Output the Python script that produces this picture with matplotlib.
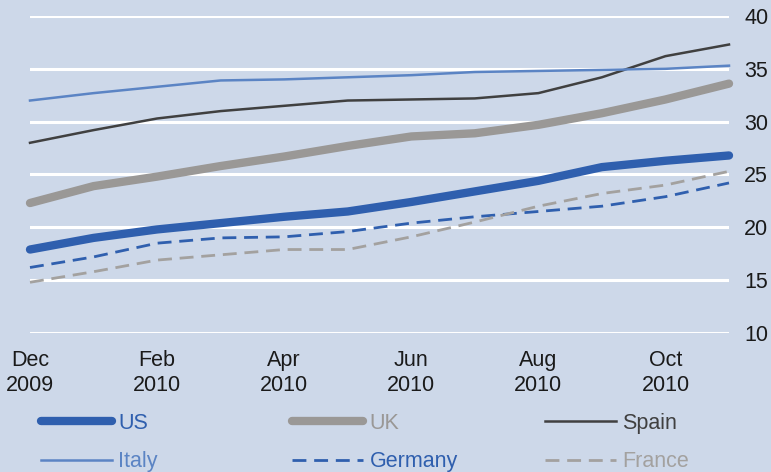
import matplotlib
matplotlib.use("Agg")
import matplotlib.pyplot as plt

months = ["Dec\n2009", "Jan\n2010", "Feb\n2010", "Mar\n2010", "Apr\n2010", "May\n2010",
          "Jun\n2010", "Jul\n2010", "Aug\n2010", "Sep\n2010", "Oct\n2010", "Nov\n2010"]

us = [17.9, 19.0, 19.8, 20.4, 21.0, 21.5, 22.4, 23.4, 24.4, 25.7, 26.3, 26.8]
uk = [22.3, 23.9, 24.8, 25.8, 26.7, 27.7, 28.6, 28.9, 29.7, 30.8, 32.1, 33.6]
spain = [28.0, 29.2, 30.3, 31.0, 31.5, 32.0, 32.1, 32.2, 32.7, 34.2, 36.2, 37.3]
italy = [32.0, 32.7, 33.3, 33.9, 34.0, 34.2, 34.4, 34.7, 34.8, 34.9, 35.0, 35.3]
germany = [16.2, 17.2, 18.5, 19.0, 19.1, 19.6, 20.4, 21.0, 21.5, 22.0, 22.9, 24.2]
france = [14.8, 15.8, 16.9, 17.4, 17.9, 17.9, 19.1, 20.5, 22.0, 23.2, 24.0, 25.3]

y_ticks = [10, 15, 20, 25, 30, 35, 40]

BG = "#cdd8e9"
BLUE = "#2f5fae"
GREY = "#9a9896"
DARK = "#404040"
LIGHTBLUE = "#5b84c4"
LIGHTGREY = "#a3a19f"

plt.rcParams["font.family"] = ["Liberation Sans", "DejaVu Sans"]
plt.rcParams["font.size"] = 15

W, H = 771, 472
fig = plt.figure(figsize=(W / 100, H / 100), dpi=100, facecolor=BG)
ax = fig.add_axes([30 / W, 1 - 333 / H, (729 - 30) / W, (333 - 16) / H])
ax.set_facecolor(BG)

x = list(range(len(months)))

series = [
    ("US", us, dict(color=BLUE, lw=6, solid_capstyle="round")),
    ("UK", uk, dict(color=GREY, lw=6, solid_capstyle="round")),
    ("Spain", spain, dict(color=DARK, lw=1.8)),
    ("Italy", italy, dict(color=LIGHTBLUE, lw=1.8)),
    ("Germany", germany, dict(color=BLUE, lw=2, linestyle=(0, (5, 2.8)))),
    ("France", france, dict(color=LIGHTGREY, lw=2, linestyle=(0, (5, 2.8)))),
]

lines = {}
for name, vals, style in series:
    (ln,) = ax.plot(x, vals, solid_joinstyle="round", clip_on=False, zorder=3, **style)
    lines[name] = ln

ax.set_xlim(0, len(months) - 1)
ax.set_ylim(10, 40)
ax.set_yticks(y_ticks)
ax.yaxis.tick_right()
ax.tick_params(axis="y", length=0, pad=11, labelsize=15.5, labelcolor="#1a1a1a")
ax.grid(axis="y", color="white", lw=2.2, zorder=1)
ax.set_xticks(x[::2])
ax.set_xticklabels(months[::2], linespacing=1.3)
ax.tick_params(axis="x", length=0, pad=12, labelsize=15.5, labelcolor="#1a1a1a")
for s in ax.spines.values():
    s.set_visible(False)

# Legend: three columns of two entries each
columns = [("US", "Italy"), ("UK", "Germany"), ("Spain", "France")]
col_x = [41, 292, 545]
for cx, names in zip(col_x, columns):
    fig.legend([lines[n] for n in names], names,
               loc="upper left", bbox_to_anchor=(cx / W, 1 - 413 / H),
               frameon=False, handlelength=3.3, handletextpad=0.3,
               labelspacing=0.8, borderpad=0, borderaxespad=0,
               labelcolor="linecolor", fontsize=15.5)

fig.savefig("out.png", dpi=100, facecolor=BG)
